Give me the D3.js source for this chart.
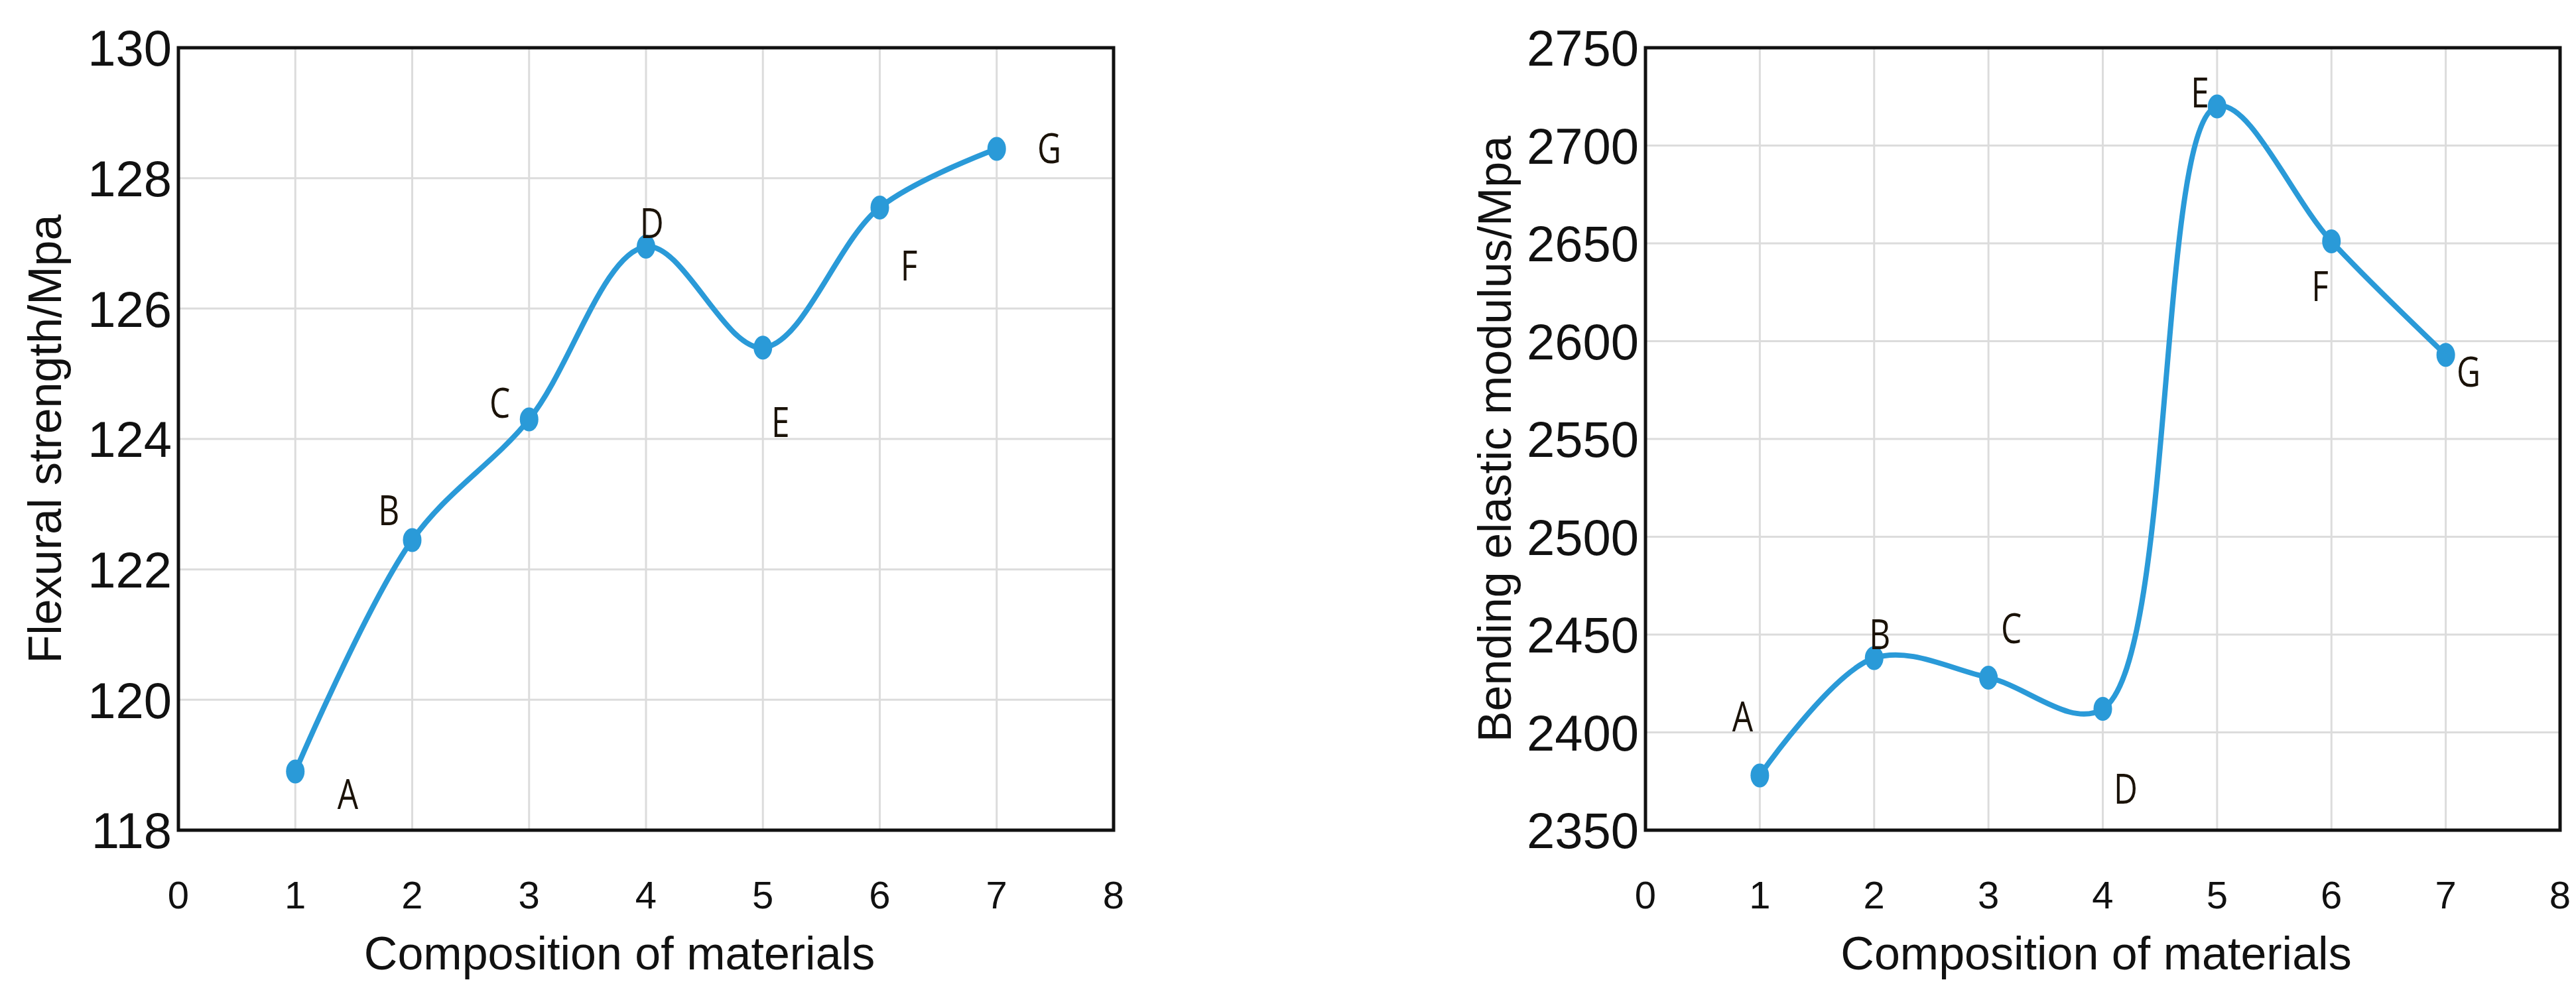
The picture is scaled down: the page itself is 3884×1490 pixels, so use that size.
<!DOCTYPE html>
<html><head><meta charset="utf-8">
<script src="https://cdn.jsdelivr.net/npm/d3@7"></script>
<style>body{margin:0;background:#fff}</style></head>
<body><svg id="c" width="3884" height="1490"></svg>
<script>
// data
var compositions = [1, 2, 3, 4, 5, 6, 7];
var pointNames = ["A", "B", "C", "D", "E", "F", "G"];
var flexural = [118.9, 122.45, 124.3, 126.95, 125.4, 127.55, 128.45];
var modulus = [2378, 2438, 2428, 2412, 2720, 2651, 2593];
// label anchor positions (data units)
var flexLabelX = [1.45, 1.8, 2.75, 4.05, 5.15, 6.25, 7.45];
var flexLabelY = [118.55, 122.9, 124.55, 127.3, 124.25, 126.65, 128.45];
var modLabelX = [0.85, 2.05, 3.2, 4.2, 4.85, 5.9, 7.2];
var modLabelY = [2408, 2450, 2453, 2371, 2727, 2628, 2584];
var xTicks = [0, 1, 2, 3, 4, 5, 6, 7, 8];
var flexTicks = [118, 120, 122, 124, 126, 128, 130];
var modTicks = [2350, 2400, 2450, 2500, 2550, 2600, 2650, 2700, 2750];

var svg = d3.select("#c");
var lineColor = "#2a9ad8";

function drawPanel(o) {
  var x = d3.scaleLinear().domain([0, 8]).range([o.left, o.right]);
  var y = d3.scaleLinear().domain(o.yDomain).range([o.bottom, o.top]);
  var g = svg.append("g");

  // grid
  g.selectAll(".gx").data(xTicks.slice(1, -1)).enter().append("line")
    .attr("x1", d => x(d)).attr("x2", d => x(d))
    .attr("y1", o.top).attr("y2", o.bottom)
    .attr("stroke", "#dcdcdc").attr("stroke-width", 3);
  g.selectAll(".gy").data(o.yTicks.slice(1, -1)).enter().append("line")
    .attr("x1", o.left).attr("x2", o.right)
    .attr("y1", d => y(d)).attr("y2", d => y(d))
    .attr("stroke", "#dcdcdc").attr("stroke-width", 3);

  // frame
  g.append("rect").attr("x", o.left).attr("y", o.top)
    .attr("width", o.right - o.left).attr("height", o.bottom - o.top)
    .attr("fill", "none").attr("stroke", "#111").attr("stroke-width", 5);

  // y ticks
  g.selectAll(".ty").data(o.yTicks).enter().append("text")
    .attr("x", o.left - 10).attr("y", d => y(d)).attr("dy", "0.36em")
    .attr("text-anchor", "end")
    .style("font-family", "Liberation Sans Narrow, Liberation Sans, sans-serif")
    .style("font-size", "76px").attr("fill", "#111")
    .text(d => d);

  // x ticks
  g.selectAll(".tx").data(xTicks).enter().append("text")
    .attr("x", d => x(d)).attr("y", 1370)
    .attr("text-anchor", "middle")
    .style("font-family", "Liberation Sans Narrow, Liberation Sans, sans-serif")
    .style("font-size", "58px").attr("fill", "#111")
    .text(d => d);

  // axis titles
  g.append("text").attr("x", (o.left + o.right) / 2 + o.titleShift).attr("y", 1462)
    .attr("text-anchor", "middle")
    .style("font-family", "Liberation Sans, Arial, sans-serif")
    .style("font-size", "70px").attr("fill", "#111")
    .text("Composition of materials");
  g.append("text")
    .attr("transform", `translate(${o.yTitleX}, ${(o.top + o.bottom) / 2}) rotate(-90)`)
    .attr("text-anchor", "middle")
    .style("font-family", "Liberation Sans, Arial, sans-serif")
    .style("font-size", "70px").attr("fill", "#111")
    .text(o.yTitle);

  // line + points
  var line = d3.line()
    .x((d, i) => x(compositions[i]))
    .y(d => y(d))
    .curve(d3.curveCatmullRom.alpha(0.5));
  g.append("path").datum(o.values).attr("d", line)
    .attr("fill", "none").attr("stroke", lineColor).attr("stroke-width", 8);
  g.selectAll(".pt").data(o.values).enter().append("ellipse")
    .attr("cx", (d, i) => x(compositions[i])).attr("cy", d => y(d))
    .attr("rx", 14).attr("ry", 18).attr("fill", lineColor);

  // point letters
  g.selectAll(".lb").data(pointNames).enter().append("text")
    .attr("x", (d, i) => x(o.labelX[i])).attr("y", (d, i) => y(o.labelY[i]))
    .attr("text-anchor", "middle").attr("dy", "0.35em")
    .style("font-family", "Open Sans, sans-serif")
    .style("font-size", "62px").attr("fill", "#1a1208")
    .attr("transform", (d, i) => `translate(${x(o.labelX[i])},${y(o.labelY[i])}) scale(0.8,1) translate(${-x(o.labelX[i])},${-y(o.labelY[i])})`)
    .text(d => d);
}

drawPanel({
  left: 269, right: 1679, top: 72, bottom: 1252,
  yDomain: [118, 130], yTicks: flexTicks, values: flexural,
  labelX: flexLabelX, labelY: flexLabelY,
  yTitle: "Flexural strength/Mpa", yTitleX: 92, titleShift: -40
});

drawPanel({
  left: 2481, right: 3860, top: 72, bottom: 1252,
  yDomain: [2350, 2750], yTicks: modTicks, values: modulus,
  labelX: modLabelX, labelY: modLabelY,
  yTitle: "Bending elastic modulus/Mpa", yTitleX: 2278, titleShift: -10
});
</script></body></html>
